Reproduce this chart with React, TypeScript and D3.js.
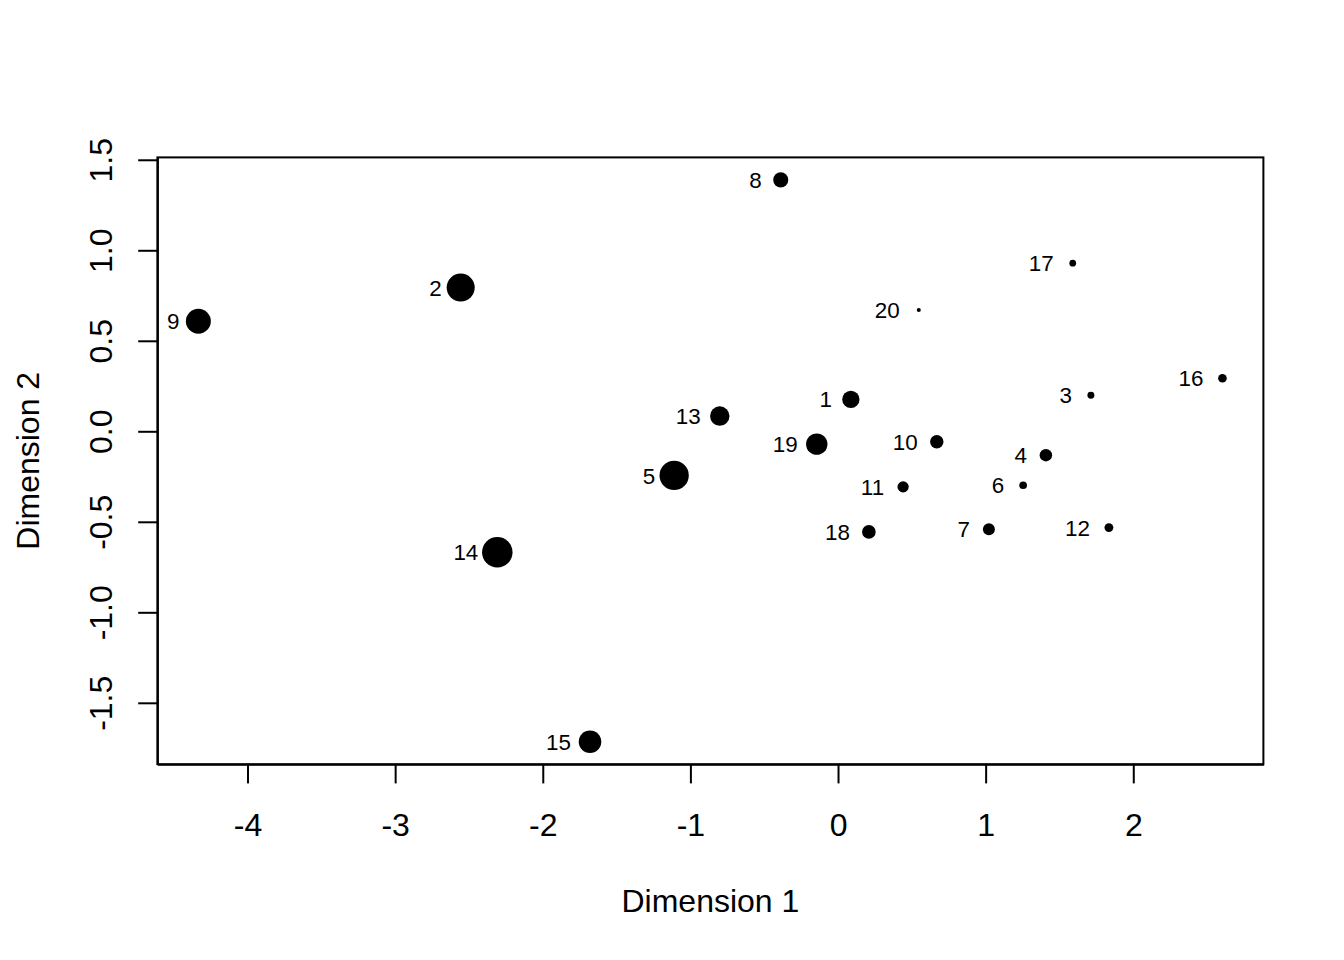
import React, { useRef, useEffect } from 'react';
import * as d3 from 'd3';

// MDS-style configuration: coordinates and relative point size per object
const labels = ['1', '2', '3', '4', '5', '6', '7', '8', '9', '10',
  '11', '12', '13', '14', '15', '16', '17', '18', '19', '20'];
const dim1 = [0.087, -2.556, 1.713, 1.408, -1.110, 1.254, 1.022, -0.388, -4.333, 0.669,
  0.441, 1.835, -0.801, -2.308, -1.680, 2.604, 1.590, 0.209, -0.144, 0.547];
const dim2 = [0.176, 0.794, 0.199, -0.132, -0.244, -0.298, -0.541, 1.389, 0.608, -0.058,
  -0.307, -0.532, 0.084, -0.668, -1.715, 0.293, 0.929, -0.556, -0.071, 0.670];
const pointCex = [0.72, 1.17, 0.29, 0.52, 1.22, 0.32, 0.5, 0.63, 1.04, 0.56,
  0.47, 0.37, 0.81, 1.27, 0.94, 0.36, 0.28, 0.57, 0.89, 0.17];

const xTicks = [-4, -3, -2, -1, 0, 1, 2];
const yTicks = [-1.5, -1.0, -0.5, 0.0, 0.5, 1.0, 1.5];
const xTitle = 'Dimension 1';
const yTitle = 'Dimension 2';

const FONT = '"Liberation Sans", Arial, Helvetica, sans-serif';

// R-style axis range: data extent padded by 4% on each side
const rRange = (vals: number[]) => {
  const [lo, hi] = d3.extent(vals) as [number, number];
  const pad = (hi - lo) * 0.04;
  return [lo - pad, hi + pad];
};

const App = () => {
  const svgRef = useRef(null);

  useEffect(() => {
    const width = 1344;
    const height = 960;
    const margin = { top: 157.4, right: 80.6, bottom: 195.8, left: 157.4 };
    const w = width - margin.left - margin.right;
    const h = height - margin.top - margin.bottom;

    const svg = d3.select(svgRef.current);
    svg.selectAll('*').remove();

    svg.append('rect').attr('width', width).attr('height', height).attr('fill', '#fff');

    const g = svg.append('g')
      .attr('transform', `translate(${margin.left},${margin.top})`);

    const x = d3.scaleLinear().domain(rRange(dim1)).range([0, w]);
    const y = d3.scaleLinear().domain(rRange(dim2)).range([h, 0]);
    const r = d3.scaleLinear().domain([0, 1]).range([0, 12]);

    const data = labels.map((lab, i) => ({ lab, x: dim1[i], y: dim2[i], cex: pointCex[i] }));

    // x axis
    const xAxis = g.append('g')
      .attr('transform', `translate(0,${h})`)
      .call(d3.axisBottom(x).tickValues(xTicks).tickSize(19.2).tickSizeOuter(0)
        .tickFormat(d => String(d)));
    xAxis.select('.domain').attr('stroke', '#000').attr('stroke-width', 2);
    xAxis.selectAll('.tick line').attr('stroke', '#000').attr('stroke-width', 2);
    xAxis.selectAll('.tick text')
      .attr('y', 72).attr('dy', 0)
      .attr('font-family', FONT).attr('font-size', 32).attr('fill', '#000');

    // y axis
    const yAxis = g.append('g')
      .call(d3.axisLeft(y).tickValues(yTicks).tickSize(19.2).tickSizeOuter(0)
        .tickFormat(d => (+d).toFixed(1)));
    yAxis.select('.domain').attr('stroke', '#000').attr('stroke-width', 2);
    yAxis.selectAll('.tick line').attr('stroke', '#000').attr('stroke-width', 2);
    yAxis.selectAll('.tick text')
      .attr('x', 0).attr('dy', 0)
      .attr('text-anchor', 'middle')
      .attr('transform', 'translate(-45.4,0) rotate(-90)')
      .attr('font-family', FONT).attr('font-size', 32).attr('fill', '#000');

    // box
    g.append('rect')
      .attr('width', w).attr('height', h)
      .attr('fill', 'none').attr('stroke', '#000').attr('stroke-width', 2);

    // points
    g.selectAll('.pt')
      .data(data)
      .enter().append('circle')
      .attr('class', 'pt')
      .attr('cx', d => x(d.x))
      .attr('cy', d => y(d.y))
      .attr('r', d => r(d.cex))
      .attr('fill', '#000');

    // point labels, to the left of each point
    g.selectAll('.lab')
      .data(data)
      .enter().append('text')
      .attr('class', 'lab')
      .attr('x', d => x(d.x) - 19)
      .attr('y', d => y(d.y))
      .attr('dy', '0.36em')
      .attr('text-anchor', 'end')
      .attr('font-family', FONT).attr('font-size', 22.4).attr('fill', '#000')
      .text(d => d.lab);

    // axis titles
    svg.append('text')
      .attr('x', margin.left + w / 2)
      .attr('y', 912)
      .attr('text-anchor', 'middle')
      .attr('font-family', FONT).attr('font-size', 32).attr('fill', '#000')
      .text(xTitle);

    svg.append('text')
      .attr('transform', `translate(39,${margin.top + h / 2}) rotate(-90)`)
      .attr('text-anchor', 'middle')
      .attr('font-family', FONT).attr('font-size', 32).attr('fill', '#000')
      .text(yTitle);
  }, []);

  return (
    <svg ref={svgRef} width={1344} height={960}
      style={{ position: 'absolute', left: 0, top: 0, display: 'block' }} />
  );
};

export default App;
